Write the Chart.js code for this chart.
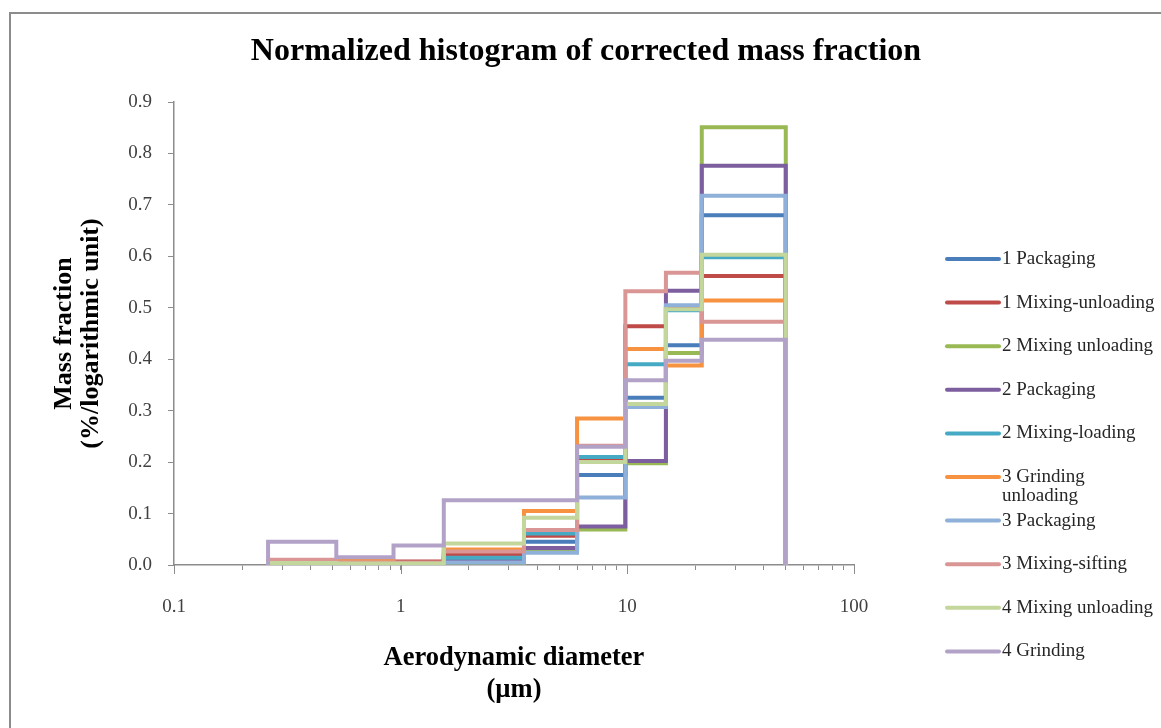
<!DOCTYPE html>
<html lang="en">
<head>
<meta charset="UTF-8">
<title>Normalized histogram of corrected mass fraction</title>
<script src="https://cdn.jsdelivr.net/npm/chart.js"></script>
<style>
  html, body { margin: 0; padding: 0; background: #fff; overflow: hidden; }
  #frame { position: absolute; left: 9px; top: 12px; width: 1300px; height: 900px; border: 2px solid #8c8c8c; }
  #wrap { position: absolute; left: 0; top: 0; width: 1161px; height: 728px; }
</style>
</head>
<body>
<div id="frame"></div>
<div id="wrap"><canvas id="myChart" width="1161" height="728"></canvas></div>
<script>
// impactor stage cut-offs (um); bin i runs from edges[i] to edges[i+1]
const edges = [0.26, 0.52, 0.93, 1.55, 3.5, 6.0, 9.8, 14.8, 21.3, 50];

const seriesNames = ['1 Packaging', '1 Mixing-unloading', '2 Mixing unloading', '2 Packaging',
  '2 Mixing-loading', '3 Grinding\nunloading', '3 Packaging', '3 Mixing-sifting',
  '4 Mixing unloading', '4 Grinding'];

// mass fraction per bin
const packaging1      = [0.001, 0.001, 0.002, 0.010, 0.045, 0.175, 0.325, 0.427, 0.680];
const mixUnloading1   = [0.003, 0.004, 0.007, 0.020, 0.057, 0.205, 0.464, 0.500, 0.562];
const mixUnloading2   = [0.001, 0.001, 0.001, 0.005, 0.030, 0.069, 0.198, 0.412, 0.851];
const packaging2      = [0.001, 0.001, 0.002, 0.008, 0.033, 0.075, 0.202, 0.533, 0.776];
const mixLoading2     = [0.001, 0.002, 0.003, 0.014, 0.061, 0.210, 0.390, 0.495, 0.598];
const grindUnloading3 = [0.004, 0.008, 0.004, 0.030, 0.105, 0.285, 0.420, 0.388, 0.514];
const packaging3      = [0.000, 0.000, 0.001, 0.005, 0.024, 0.131, 0.307, 0.505, 0.718];
const mixSifting3     = [0.010, 0.005, 0.005, 0.026, 0.068, 0.232, 0.532, 0.568, 0.473];
const mixUnloading4   = [0.004, 0.003, 0.003, 0.042, 0.092, 0.200, 0.313, 0.497, 0.603];
const grinding4       = [0.045, 0.015, 0.038, 0.126, 0.126, 0.230, 0.359, 0.397, 0.438];

const seriesValues = [packaging1, mixUnloading1, mixUnloading2, packaging2, mixLoading2,
  grindUnloading3, packaging3, mixSifting3, mixUnloading4, grinding4];

const seriesColors = ['#4a7ebb', '#be4b48', '#98b954', '#7d5fa0', '#46aac5',
  '#f69240', '#8fb0d8', '#d99694', '#c3d69b', '#b3a2c7'];

const xTickLabels = ['0.1', '1', '10', '100'];
const chartTitle = 'Normalized histogram of corrected mass fraction';

// outline of a histogram: up at the first edge, across each bin, down at the last edge
function steps(vals) {
  const pts = [{ x: edges[0], y: 0 }];
  vals.forEach((v, i) => {
    pts.push({ x: edges[i], y: v });
    pts.push({ x: edges[i + 1], y: v });
  });
  pts.push({ x: edges[edges.length - 1], y: 0 });
  return pts;
}

const datasets = seriesValues.map((vals, i) => ({
  label: seriesNames[i].replace('\n', ' '),
  data: steps(vals),
  borderColor: seriesColors[i],
  backgroundColor: seriesColors[i],
  borderWidth: 4,
  pointRadius: 0,
  tension: 0,
  fill: false,
  order: seriesValues.length - i   // later series on top, like the original
}));

// title and the legend on the right are painted by hand (legend has a wrapped label)
const titleAndLegend = {
  id: 'titleAndLegend',
  afterDraw(chart) {
    const ctx = chart.ctx;
    ctx.save();
    ctx.fillStyle = '#000';
    ctx.font = 'bold 32px "Liberation Serif"';
    ctx.textAlign = 'center';
    ctx.textBaseline = 'middle';
    ctx.fillText(chartTitle, 586, 52);

    // longer marks under the decades
    const xs = chart.scales.x;
    ctx.strokeStyle = '#8c8c8c';
    ctx.lineWidth = 1;
    [0.1, 1, 10, 100].forEach(v => {
      const px = Math.round(xs.getPixelForValue(v)) + 0.5;
      ctx.beginPath();
      ctx.moveTo(px, xs.top);
      ctx.lineTo(px, xs.top + 9);
      ctx.stroke();
    });

    ctx.font = '19px "Liberation Serif"';
    ctx.textAlign = 'left';
    seriesNames.forEach((name, i) => {
      const y = 259 + i * 43.6;
      ctx.strokeStyle = seriesColors[i];
      ctx.lineWidth = 4;
      ctx.lineCap = 'round';
      ctx.beginPath();
      ctx.moveTo(947, y);
      ctx.lineTo(999, y);
      ctx.stroke();
      ctx.fillStyle = '#262626';
      name.split('\n').forEach((line, j) => ctx.fillText(line, 1002, y + j * 19));
    });
    ctx.restore();
  }
};

const xTickValues = [];
[0.1, 1, 10].forEach(d => {
  for (let k = 1; k < 10; k++) xTickValues.push(Number((k * d).toFixed(2)));
});
xTickValues.push(100);

const ctx = document.getElementById('myChart').getContext('2d');
new Chart(ctx, {
  type: 'line',
  data: { datasets },
  plugins: [titleAndLegend],
  options: {
    responsive: false,
    animation: false,
    layout: { padding: { top: 102, right: 307, bottom: 0, left: 0 } },
    plugins: {
      legend: { display: false },
      tooltip: { enabled: false }
    },
    scales: {
      x: {
        type: 'logarithmic',
        min: 0.1,
        max: 100,
        afterFit: s => { s.height = 163; },
        afterBuildTicks: s => {
          s.ticks = xTickValues.map(v => ({ value: v }));
        },
        border: { display: true, color: '#8c8c8c', width: 1.5 },
        grid: { drawOnChartArea: false, drawTicks: true, tickLength: 5, color: '#8c8c8c' },
        ticks: {
          autoSkip: false,
          maxRotation: 0,
          padding: 26,
          color: '#404040',
          font: { family: 'Liberation Serif', size: 19 },
          callback: v => {
            const l = Math.log10(v);
            return Math.abs(l - Math.round(l)) < 1e-6 ? xTickLabels[Math.round(l) + 1] : '';
          }
        },
        title: {
          display: true,
          text: ['Aerodynamic diameter', '(µm)'],
          color: '#000',
          padding: { top: 0, bottom: 22 },
          font: { family: 'Liberation Serif', size: 26.5, weight: 'bold', lineHeight: 1.2 }
        }
      },
      y: {
        min: 0,
        max: 0.9,
        afterFit: s => { s.width = 174; },
        border: { display: true, color: '#8c8c8c', width: 1.5 },
        grid: { drawOnChartArea: false, drawTicks: true, tickLength: 6, color: '#8c8c8c' },
        ticks: {
          stepSize: 0.1,
          padding: 16,
          color: '#404040',
          font: { family: 'Liberation Serif', size: 19 },
          callback: v => v.toFixed(1)
        },
        title: {
          display: true,
          text: ['Mass fraction', '(%/logarithmic unit)'],
          color: '#000',
          padding: { top: 51, bottom: 0 },
          font: { family: 'Liberation Serif', size: 26, weight: 'bold', lineHeight: 1.04 }
        }
      }
    }
  }
});
</script>
</body>
</html>
